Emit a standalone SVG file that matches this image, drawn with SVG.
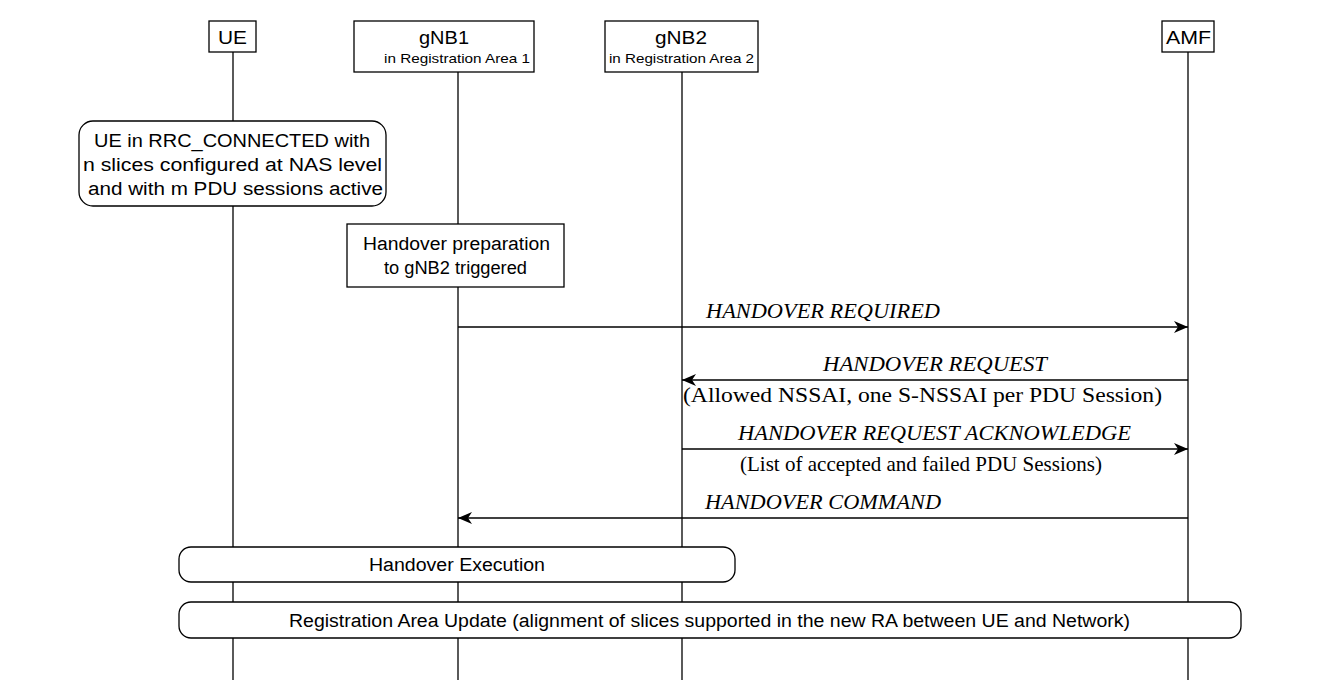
<svg xmlns="http://www.w3.org/2000/svg" width="1320" height="693" viewBox="0 0 1320 693">
<defs>
<style>
.b{fill:#fff;stroke:#000;stroke-width:1.3}
.l{stroke:#000;stroke-width:1.3;fill:none}
.s{font-family:"Liberation Sans",Arial,sans-serif;fill:#000}
.m{font-family:"Liberation Serif","Times New Roman",serif;font-size:21px;fill:#000}
.i{font-style:italic}
</style>
<marker id="a" viewBox="0 0 14 12" refX="14" refY="6" markerWidth="14" markerHeight="12" markerUnits="userSpaceOnUse" orient="auto"><path d="M0,0 L14,6 L0,12 L4,6 Z" fill="#000"/></marker>
</defs>
<rect width="1320" height="693" fill="#fff"/>
<g id="lifelines">
<line class="l" x1="233" y1="52" x2="233" y2="680"/>
<line class="l" x1="458" y1="72" x2="458" y2="680"/>
<line class="l" x1="682" y1="72" x2="682" y2="680"/>
<line class="l" x1="1188" y1="52" x2="1188" y2="680"/>
</g>
<g id="UE"><rect class="b" x="209" y="21" width="47" height="31"/><text class="s" x="218" y="44" font-size="19" textLength="29" lengthAdjust="spacingAndGlyphs">UE</text></g>
<g id="gNB1"><rect class="b" x="354" y="21" width="180" height="51"/><text class="s" x="419" y="44" font-size="18" textLength="50" lengthAdjust="spacingAndGlyphs">gNB1</text><text class="s" x="384" y="63" font-size="13" textLength="146" lengthAdjust="spacingAndGlyphs">in Registration Area 1</text></g>
<g id="gNB2"><rect class="b" x="605" y="21" width="153" height="51"/><text class="s" x="655" y="44" font-size="18" textLength="52" lengthAdjust="spacingAndGlyphs">gNB2</text><text class="s" x="609" y="63" font-size="13" textLength="145" lengthAdjust="spacingAndGlyphs">in Registration Area 2</text></g>
<g id="AMF"><rect class="b" x="1162" y="21" width="52" height="31"/><text class="s" x="1166" y="44" font-size="19" textLength="45" lengthAdjust="spacingAndGlyphs">AMF</text></g>
<g id="ueNote"><rect class="b" x="79" y="121" width="307" height="85" rx="14"/>
<text class="s" font-size="18" x="94" y="147" textLength="276" lengthAdjust="spacingAndGlyphs">UE in RRC_CONNECTED with</text>
<text class="s" font-size="18" x="83" y="171" textLength="299" lengthAdjust="spacingAndGlyphs">n slices configured at NAS level</text>
<text class="s" font-size="18" x="88" y="195" textLength="295" lengthAdjust="spacingAndGlyphs">and with m PDU sessions active</text></g>
<g id="hoPrep"><rect class="b" x="347" y="224" width="217" height="63"/>
<text class="s" font-size="18" x="363" y="250" textLength="187" lengthAdjust="spacingAndGlyphs">Handover preparation</text>
<text class="s" font-size="18" x="384" y="274" textLength="143" lengthAdjust="spacingAndGlyphs">to gNB2 triggered</text></g>
<g id="connectors">
<line class="l" x1="458" y1="327" x2="1188" y2="327" marker-end="url(#a)"/>
<line class="l" x1="1188" y1="380" x2="682" y2="380" marker-end="url(#a)"/>
<line class="l" x1="682" y1="449" x2="1188" y2="449" marker-end="url(#a)"/>
<line class="l" x1="1188" y1="518" x2="458" y2="518" marker-end="url(#a)"/>
<text class="m i" x="706" y="318" textLength="234" lengthAdjust="spacingAndGlyphs">HANDOVER REQUIRED</text>
<text class="m i" x="823" y="371" textLength="224" lengthAdjust="spacingAndGlyphs">HANDOVER REQUEST</text>
<text class="m" x="683" y="402" textLength="479" lengthAdjust="spacingAndGlyphs">(Allowed NSSAI, one S-NSSAI per PDU Session)</text>
<text class="m i" x="738" y="440" textLength="393" lengthAdjust="spacingAndGlyphs">HANDOVER REQUEST ACKNOWLEDGE</text>
<text class="m" x="740" y="471" textLength="362" lengthAdjust="spacingAndGlyphs">(List of accepted and failed PDU Sessions)</text>
<text class="m i" x="705" y="509" textLength="236" lengthAdjust="spacingAndGlyphs">HANDOVER COMMAND</text>
</g>
<g id="hoExec"><rect class="b" x="179" y="547" width="556" height="35" rx="12"/><text class="s" x="369" y="571" font-size="18" textLength="176" lengthAdjust="spacingAndGlyphs">Handover Execution</text></g>
<g id="raUpdate"><rect class="b" x="179" y="602" width="1062" height="36" rx="12"/><text class="s" x="289" y="627" font-size="18" textLength="841" lengthAdjust="spacingAndGlyphs">Registration Area Update (alignment of slices supported in the new RA between UE and Network)</text></g>
</svg>
